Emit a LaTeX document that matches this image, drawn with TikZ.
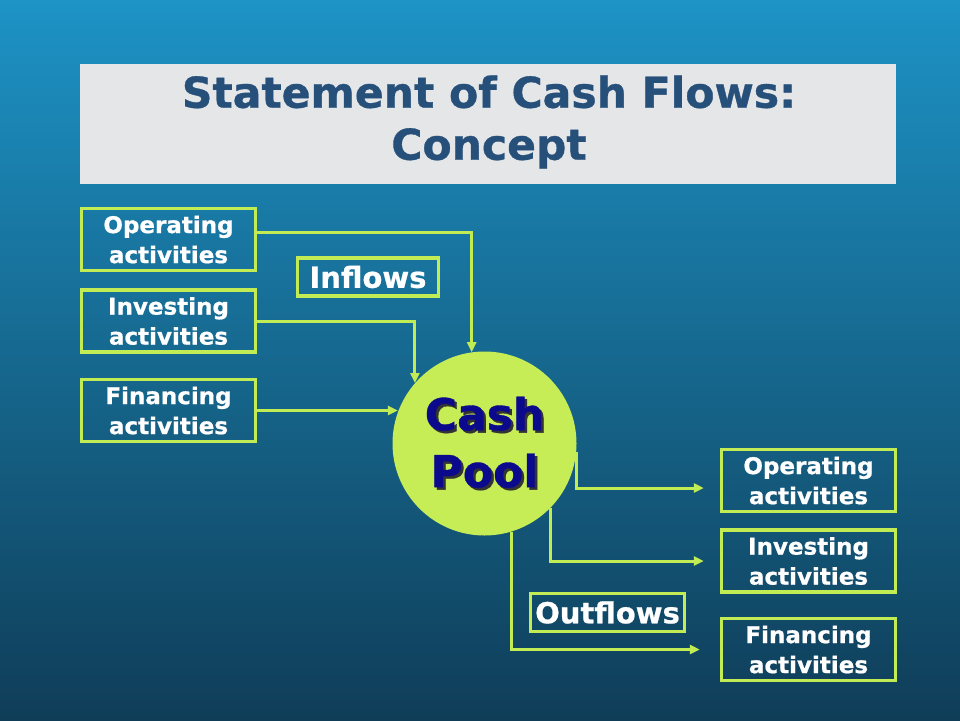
\documentclass[tikz,border=0pt]{standalone}
\usepackage{fontspec}
\setsansfont{DejaVu Sans}[BoldFeatures={FakeBold=0.8}]
\renewcommand{\familydefault}{\sfdefault}
\usetikzlibrary{arrows.meta,positioning}

\definecolor{BgTop}{RGB}{29,147,198}
\definecolor{BgBottom}{RGB}{15,61,88}
\definecolor{Lime}{RGB}{194,236,84}
\definecolor{PoolFill}{RGB}{198,236,86}
\definecolor{TitleBlue}{RGB}{38,80,122}
\definecolor{PoolNavy}{RGB}{12,10,140}
\definecolor{Marble}{RGB}{228,230,232}

\newcommand{\Shadowed}[1]{\leavevmode\rlap{\kern2.5pt\raisebox{-2.5pt}{\color{black!80}#1}}#1}

\begin{document}
\begin{tikzpicture}[x=1pt, y=-1pt]

  \tikzset{
  ActBox/.style = {
  shape = rectangle,
  draw = Lime,
  line width = 3.5pt,
  minimum width = 174pt,
  minimum height = 62pt,
  inner sep = 0pt,
  align = center,
  text = white,
  font = \bfseries\fontsize{23}{30}\selectfont},
  FlowLabel/.style = {
  shape = rectangle,
  draw = Lime,
  line width = 3.5pt,
  inner sep = 0pt,
  minimum height = 38pt,
  text = white,
  font = \bfseries\fontsize{29}{34}\selectfont},
  Flow/.style = {
  draw = Lime,
  line width = 3pt,
  -{Triangle[length=10pt, width=9pt]}}}

  % slide
  \shade[top color=BgTop, bottom color=BgBottom] (0,0) rectangle (960,720);
  \useasboundingbox (0,0) rectangle (960,720);

  \node[fill=Marble, minimum width=816pt, minimum height=120pt,
    inner sep=0pt] (TitleBox) at (488,124) {};
  \node[text=TitleBlue, align=center,
    font=\bfseries\fontsize{42.5}{52}\selectfont] (Title) at (489,122)
    {Statement of Cash Flows:\\Concept};

  % cash pool
  \node[circle, fill=PoolFill, minimum size=184pt, inner sep=0pt]
    (Pool) at (484.5,443.5) {};
  \node[text=PoolNavy, align=center, font=\bfseries\fontsize{44}{57}\selectfont]
    (PoolText) at (Pool.center) {\Shadowed{Cash}\\\Shadowed{Pool}};

  % inflows
  \node[ActBox] (InOp) at (168.5,239.5) {Operating\\activities};
  \node[ActBox, below=16pt of InOp] (InInv) {Investing\\activities};
  \node[ActBox, below=24pt of InInv] (InFin) {Financing\\activities};
  \node[FlowLabel, minimum width=141pt] (Inflows) at (368,277) {Inflows};

  \draw[Flow] ([yshift=7.5pt]InOp.east) -| (Pool.98);
  \draw[Flow] (InInv.east) -| (Pool.139);
  \draw[Flow] (InFin.east) -- (InFin.east -| Pool.160);

  % outflows
  \node[ActBox] (OutOp) at (808.5,480.5) {Operating\\activities};
  \node[ActBox, below=15pt of OutOp] (OutInv) {Investing\\activities};
  \node[ActBox, below=23pt of OutInv] (OutFin) {Financing\\activities};
  \node[FlowLabel, minimum width=154pt] (Outflows) at (607.5,612.5) {Outflows};

  \draw[Flow, shorten >=16pt] (Pool.-5) |- ([yshift=-7.5pt]OutOp.west);
  \draw[Flow, shorten >=16pt] (Pool.-44) |- (OutInv.west);
  \draw[Flow, shorten >=20pt] (Pool.-73) |- (OutFin.west);
\end{tikzpicture}
\end{document}
